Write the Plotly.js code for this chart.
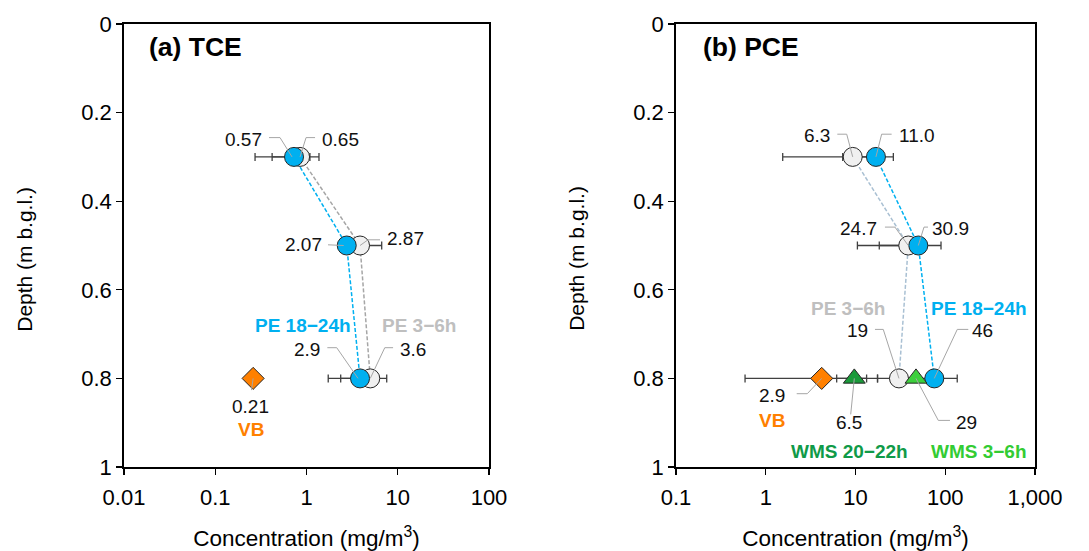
<!DOCTYPE html>
<html><head><meta charset="utf-8">
<script src="https://cdn.plot.ly/plotly-3.0.1.min.js"></script>
<style>html,body{margin:0;padding:0;background:#fff}#chart{width:1089px;height:551px}</style>
</head><body><div id="chart"></div>
<script>
// ---------- data: panel (a) TCE ----------
const depths = [0.3, 0.5, 0.8];
const depthVB = [0.8];
const tcePE36 = [0.85, 3.86, 5.0];
const tcePE36Lo = [0.42, 2.64, 2.37];
const tcePE36Hi = [1.37, 6.67, 7.57];
const tcePE36Text = ['0.65', '2.87', '3.6'];
const tcePE1824 = [0.73, 2.76, 3.86];
const tcePE1824Lo = [0.273, 2.76, 1.73];
const tcePE1824Hi = [1.09, 2.76, 5.9];
const tcePE1824Text = ['0.57', '2.07', '2.9'];
const tceVB = [0.26];
const tceVBText = ['0.21'];

// ---------- data: panel (b) PCE ----------
const pcePE36 = [9.31, 38.7, 30.5];
const pcePE36Lo = [1.545, 10.5, 17.6];
const pcePE36Hi = [14.5, 59.5, 46.0];
const pcePE36Text = ['6.3', '24.7', '19'];
const pcePE1824 = [16.9, 50.1, 75.5];
const pcePE1824Lo = [7.2, 18.4, 44.9];
const pcePE1824Hi = [26.4, 89.7, 136];
const pcePE1824Text = ['11.0', '30.9', '46'];
const pceVB = [4.2];
const pceVBLo = [0.588];
const pceVBHi = [17.6];
const pceVBText = ['2.9'];
const pceWMS2022 = [9.7];
const pceWMS2022Lo = [6.17];
const pceWMS2022Hi = [13.3];
const pceWMS2022Text = ['6.5'];
const pceWMS36 = [47.2];
const pceWMS36Text = ['29'];

const tickA = [0.01, 0.1, 1, 10, 100];
const tickAText = ['0.01', '0.1', '1', '10', '100'];
const tickB = [0.1, 1, 10, 100, 1000];
const tickBText = ['0.1', '1', '10', '100', '1,000'];
const depthTicks = [0, 0.2, 0.4, 0.6, 0.8, 1];
const depthTickText = ['0', '0.2', '0.4', '0.6', '0.8', '1'];
const xTitleText = 'Concentration (mg/m<sup>3</sup>)';
const yTitleText = 'Depth (m b.g.l.)';

// ---------- styles ----------
const FONT = 'Liberation Sans, Arial, Helvetica, sans-serif';
const BLUE = '#00b0f0', GREYFILL = '#f0f0f0', ORANGE = '#ff8000';
const DKGREEN = '#1a9a3a', LTGREEN = '#3cd03c';
const EDGE = '#262626', ERR = '#404040', LEADER = '#a6a6a6';

function errTrace(x, y, lo, hi, xa, ya) {
  return {
    x: x, y: y, xaxis: xa, yaxis: ya, type: 'scatter', mode: 'markers',
    marker: {size: 1, opacity: 0}, hoverinfo: 'skip', showlegend: false,
    error_x: {type: 'data', symmetric: false,
      array: x.map((v, i) => hi[i] - v), arrayminus: x.map((v, i) => v - lo[i]),
      color: ERR, thickness: 1.3, width: 4}
  };
}
function serTrace(name, x, y, xa, ya, mode, marker, line) {
  const t = {name: name, x: x, y: y, xaxis: xa, yaxis: ya, type: 'scatter', mode: mode,
    marker: marker, showlegend: false, cliponaxis: false};
  if (line) t.line = line;
  return t;
}
const circ = (fill) => ({symbol: 'circle', size: 19, color: fill, line: {color: EDGE, width: 1}});

const traces = [
  errTrace(tcePE36, depths, tcePE36Lo, tcePE36Hi, 'x', 'y'),
  errTrace(tcePE1824, depths, tcePE1824Lo, tcePE1824Hi, 'x', 'y'),
  serTrace('PE 3−6h', tcePE36, depths, 'x', 'y', 'lines+markers', circ(GREYFILL), {color: '#a6a6a6', width: 1.5, dash: '4px,2px'}),
  serTrace('PE 18−24h', tcePE1824, depths, 'x', 'y', 'lines+markers', circ(BLUE), {color: BLUE, width: 1.5, dash: '4px,2px'}),
  serTrace('VB', tceVB, depthVB, 'x', 'y', 'markers', {symbol: 'diamond', size: 17, color: ORANGE, line: {color: EDGE, width: 1}}),
  errTrace(pcePE36, depths, pcePE36Lo, pcePE36Hi, 'x2', 'y2'),
  errTrace(pcePE1824, depths, pcePE1824Lo, pcePE1824Hi, 'x2', 'y2'),
  errTrace(pceVB, depthVB, pceVBLo, pceVBHi, 'x2', 'y2'),
  errTrace(pceWMS2022, depthVB, pceWMS2022Lo, pceWMS2022Hi, 'x2', 'y2'),
  serTrace('PE 3−6h', pcePE36, depths, 'x2', 'y2', 'lines+markers', circ(GREYFILL), {color: '#a9c0d3', width: 1.5, dash: '4px,2px'}),
  serTrace('PE 18−24h', pcePE1824, depths, 'x2', 'y2', 'lines+markers', circ(BLUE), {color: BLUE, width: 1.5, dash: '4px,2px'}),
  serTrace('VB', pceVB, depthVB, 'x2', 'y2', 'markers', {symbol: 'diamond', size: 17, color: ORANGE, line: {color: EDGE, width: 1}}),
  serTrace('WMS 20−22h', pceWMS2022, depthVB, 'x2', 'y2', 'markers', {symbol: 'triangle-up', size: 19, color: DKGREEN, line: {color: EDGE, width: 1}}),
  serTrace('WMS 3−6h', pceWMS36, depthVB, 'x2', 'y2', 'markers', {symbol: 'triangle-up', size: 19, color: LTGREEN, line: {color: EDGE, width: 1}})
];

// ---------- value labels with elbow leader lines (offsets in px from marker) ----------
const series = {
  a: {pe36: [tcePE36, depths, tcePE36Text], pe1824: [tcePE1824, depths, tcePE1824Text], vb: [tceVB, depthVB, tceVBText]},
  b: {pe36: [pcePE36, depths, pcePE36Text], pe1824: [pcePE1824, depths, pcePE1824Text], vb: [pceVB, depthVB, pceVBText],
      wms2022: [pceWMS2022, depthVB, pceWMS2022Text], wms36: [pceWMS36, depthVB, pceWMS36Text]}
};
const labelSpecs = [
  {p: 'a', s: 'pe1824', i: 0, dx: -50.7, dy: 17.7, path: [[-25, 19.3], [-14, 19.3], [-2, 0]]},
  {p: 'a', s: 'pe36', i: 0, dx: 40, dy: 17.7, path: [[15, 19.3], [6, 19.3], [0, 0]]},
  {p: 'a', s: 'pe1824', i: 1, dx: -43.4, dy: 0.7, path: [[-18.7, 0.7], [-3, 0]]},
  {p: 'a', s: 'pe36', i: 1, dx: 45.3, dy: 7.4, path: [[20, 5.7], [8, 5.7], [0, 0]]},
  {p: 'a', s: 'pe1824', i: 2, dx: -53, dy: 29, path: [[-32.7, 30.7], [-23.3, 30.7], [-2, 0]]},
  {p: 'a', s: 'pe36', i: 2, dx: 42.5, dy: 29, path: [[22.8, 30.7], [14.5, 30.7], [0, 0]]},
  {p: 'a', s: 'vb', i: 0, dx: -2.6, dy: -27.7, path: [[0, 0], [-1.6, -11.7]]},
  {p: 'b', s: 'pe36', i: 0, dx: -35.4, dy: 21, path: [[-15.4, 22.7], [-6, 22.7], [0, 0]]},
  {p: 'b', s: 'pe1824', i: 0, dx: 40.7, dy: 21, path: [[15.7, 22.7], [5.7, 22.7], [0, 0]]},
  {p: 'b', s: 'pe36', i: 1, dx: -49.5, dy: 17.4, path: [[-23.3, 18.4], [-13.3, 18.4], [0, 0]]},
  {p: 'b', s: 'pe1824', i: 1, dx: 32.2, dy: 17.4, path: [[9.7, 18.4], [5.7, 18.4], [0, 0]]},
  {p: 'b', s: 'vb', i: 0, dx: -50, dy: -17, path: [[-25, -15.3], [-14.4, -15.3], [0, 0]]},
  {p: 'b', s: 'wms2022', i: 0, dx: -5.3, dy: -44.3, path: [[0, 0], [-3.6, -36]]},
  {p: 'b', s: 'pe36', i: 2, dx: -41.2, dy: 48.3, path: [[-24, 49], [-15.7, 49], [0, 0]]},
  {p: 'b', s: 'wms36', i: 0, dx: 50.2, dy: -43.7, path: [[34, -42], [22.3, -42], [0, 0]]},
  {p: 'b', s: 'pe1824', i: 2, dx: 48.7, dy: 48.3, path: [[34, 49], [23, 49], [0, 0]]}
];
const nameSpecs = [
  {p: 'a', s: 'pe1824', i: 2, text: 'PE 18−24h', color: BLUE, dx: -56.7, dy: 53},
  {p: 'a', s: 'pe36', i: 2, text: 'PE 3−6h', color: '#bfbfbf', dx: 48.5, dy: 53},
  {p: 'a', s: 'vb', i: 0, text: 'VB', color: ORANGE, dx: -2.6, dy: -51},
  {p: 'b', s: 'pe36', i: 2, text: 'PE 3−6h', color: '#bfbfbf', dx: -50.7, dy: 69.7},
  {p: 'b', s: 'pe1824', i: 2, text: 'PE 18−24h', color: BLUE, dx: 44.5, dy: 69.7},
  {p: 'b', s: 'vb', i: 0, text: 'VB', color: ORANGE, dx: -50, dy: -42},
  {p: 'b', s: 'wms2022', i: 0, text: 'WMS 20−22h', color: '#109a48', dx: -5.3, dy: -73.3},
  {p: 'b', s: 'wms36', i: 0, text: 'WMS 3−6h', color: '#33cc33', dx: 62.8, dy: -73.3}
];

const annotations = [], shapes = [];
labelSpecs.forEach(sp => {
  const [xs, ys, txt] = series[sp.p][sp.s];
  const xr = sp.p === 'a' ? 'x' : 'x2', yr = sp.p === 'a' ? 'y' : 'y2';
  annotations.push({xref: xr, yref: yr, x: Math.log10(xs[sp.i]), y: ys[sp.i], text: txt[sp.i],
    showarrow: false, xanchor: 'center', yanchor: 'middle', xshift: sp.dx, yshift: sp.dy,
    font: {family: FONT, size: 19, color: '#111'}});
  const d = 'M' + sp.path.map(q => q[0] + ',' + q[1]).join(' L');
  shapes.push({type: 'path', xref: xr, yref: yr, xsizemode: 'pixel', ysizemode: 'pixel',
    xanchor: xs[sp.i], yanchor: ys[sp.i], path: d, line: {color: LEADER, width: 1}, layer: 'above'});
});
nameSpecs.forEach(sp => {
  const [xs, ys] = series[sp.p][sp.s];
  annotations.push({xref: sp.p === 'a' ? 'x' : 'x2', yref: sp.p === 'a' ? 'y' : 'y2',
    x: Math.log10(xs[sp.i]), y: ys[sp.i], text: '<b>' + sp.text + '</b>', showarrow: false,
    xanchor: 'center', yanchor: 'middle', xshift: sp.dx, yshift: sp.dy,
    font: {family: FONT, size: 19, color: sp.color}});
});
// panel titles
annotations.push({xref: 'paper', yref: 'paper', x: 0.0252, y: 0.948, xanchor: 'left', yanchor: 'middle',
  text: '<b>(a) TCE</b>', showarrow: false, font: {family: FONT, size: 26.5, color: '#000'}});
annotations.push({xref: 'paper', yref: 'paper', x: 0.6335, y: 0.948, xanchor: 'left', yanchor: 'middle',
  text: '<b>(b) PCE</b>', showarrow: false, font: {family: FONT, size: 26.5, color: '#000'}});
// depth-axis titles (placed below the axis centre, as in the reference)
[-0.1087, 0.4973].forEach(px => annotations.push({xref: 'paper', yref: 'paper', x: px, y: 0.470,
  xanchor: 'center', yanchor: 'middle', textangle: -90, text: yTitleText, showarrow: false,
  font: {family: FONT, size: 21, color: '#000'}}));

const axBase = {
  showline: true, mirror: true, linecolor: '#000', linewidth: 1.8,
  ticks: 'outside', ticklen: 6, tickwidth: 1.3, tickcolor: '#000',
  showgrid: false, zeroline: false, automargin: false,
  tickfont: {family: FONT, size: 22, color: '#000'}
};
const xTitle = {text: xTitleText, standoff: 24, font: {family: FONT, size: 22.5, color: '#000'}};

const layout = {
  width: 1089, height: 551, margin: {l: 124, r: 54, t: 24, b: 83.5},
  paper_bgcolor: '#fff', plot_bgcolor: '#fff', showlegend: false,
  font: {family: FONT},
  xaxis: Object.assign({}, axBase, {type: 'log', domain: [0, 0.40066], range: [-2, 2],
    tickvals: tickA, ticktext: tickAText, anchor: 'y', title: xTitle, ticklabelstandoff: 4}),
  yaxis: Object.assign({}, axBase, {range: [1, 0], tickvals: depthTicks, ticktext: depthTickText,
    anchor: 'x'}),
  xaxis2: Object.assign({}, axBase, {type: 'log', domain: [0.60593, 1], range: [-1, 3],
    tickvals: tickB, ticktext: tickBText, anchor: 'y2', title: xTitle, ticklabelstandoff: 4}),
  yaxis2: Object.assign({}, axBase, {range: [1, 0], tickvals: depthTicks, ticktext: depthTickText,
    anchor: 'x2'}),
  annotations: annotations, shapes: shapes
};

Plotly.newPlot('chart', traces, layout, {staticPlot: true, displayModeBar: false});
</script></body></html>
